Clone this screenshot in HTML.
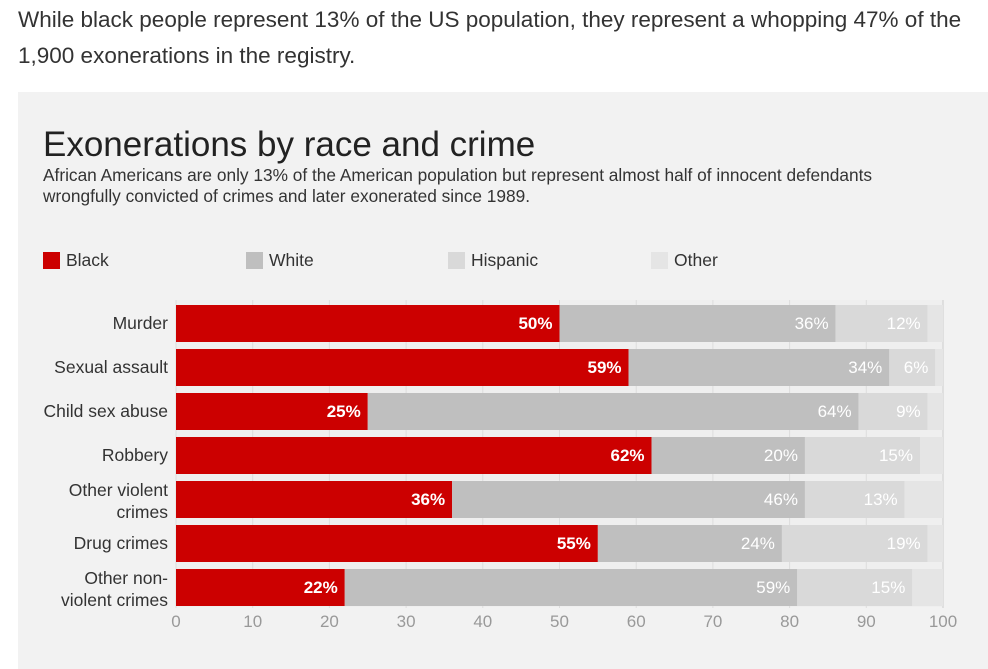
<!DOCTYPE html>
<html><head><meta charset="utf-8"><style>
body{margin:0;width:988px;height:669px;background:#fff;font-family:"Liberation Sans",sans-serif;overflow:hidden;position:relative}
.intro{position:absolute;left:18px;top:2px;font-size:22.5px;line-height:36px;color:#333;width:965px}
.panel{position:absolute;left:18px;top:92px;width:970px;height:577px;background:#f2f2f2}
h1{position:absolute;left:43px;top:125px;margin:0;font-size:35px;font-weight:normal;color:#222}
.sub{position:absolute;left:43px;top:165px;font-size:17.3px;line-height:21px;color:#333;width:875px}
.leg{position:absolute;top:250px;font-size:17.5px;color:#333}
.leg span{display:inline-block;width:17px;height:17px;vertical-align:-3px;margin-right:6px}
</style></head><body>
<div class="intro">While black people represent 13% of the US population, they represent a whopping 47% of the 1,900 exonerations in the registry.</div>
<div class="panel"></div>
<h1>Exonerations by race and crime</h1>
<div class="sub">African Americans are only 13% of the American population but represent almost half of innocent defendants wrongfully convicted of crimes and later exonerated since 1989.</div>
<div class="leg" style="left:43px"><span style="background:#cc0000"></span>Black</div>
<div class="leg" style="left:246px"><span style="background:#bfbfbf"></span>White</div>
<div class="leg" style="left:448px"><span style="background:#d9d9d9"></span>Hispanic</div>
<div class="leg" style="left:651px"><span style="background:#e5e5e5"></span>Other</div>
<svg id="chart" width="988" height="669" style="position:absolute;left:0;top:0"></svg>
<script>
const categories=[["Murder"],["Sexual assault"],["Child sex abuse"],["Robbery"],["Other violent","crimes"],["Drug crimes"],["Other non-","violent crimes"]];
const black=[50,59,25,62,36,55,22];
const white=[36,34,64,20,46,24,59];
const hispanic=[12,6,9,15,13,19,15];
const other=[2,1,2,3,5,2,4];
const ticks=[0,10,20,30,40,50,60,70,80,90,100];
const svg=document.getElementById('chart');const NS='http://www.w3.org/2000/svg';
const x=v=>176+v*7.67;const y=i=>305+i*44;const bh=37;
function mk(t,a,p){const e=document.createElementNS(NS,t);for(const k in a)e.setAttribute(k,a[k]);(p||svg).appendChild(e);return e;}
mk('rect',{x:176,y:300,width:767,height:307,fill:'#efefef'});
ticks.forEach(t=>{const l=mk('line',{x1:x(t),x2:x(t),y1:300,y2:608,stroke:t==100?'#ccc':'#ddd'});


const tx=mk('text',{x:x(t),y:627,'text-anchor':'middle','font-size':17,fill:'#999'});tx.textContent=t;

});
const series=[[black,'#cc0000','black'],[white,'#bfbfbf','white'],[hispanic,'#d9d9d9','hispanic'],[other,'#e5e5e5','other']];
categories.forEach((c,i)=>{let acc=0;
series.forEach(([arr,col,nm],si)=>{const v=arr[i];const r=mk('rect',{x:x(acc),y:y(i),width:v*7.67,height:bh,fill:col});


acc+=v;
if(si<3){const t=mk('text',{x:x(acc)-7,y:y(i)+24,'text-anchor':'end','font-size':17,'font-weight':si==0?'bold':'normal',fill:'#fff'});t.textContent=v+'%';

}});
const lt=mk('text',{x:168,'text-anchor':'end','font-size':17.5,fill:'#333'});


c.forEach((s,k)=>{const ts=mk('tspan',{x:168,y:c.length==1?y(i)+24:y(i)+15+k*22},lt);ts.textContent=s;});});
</script>
</body></html>
